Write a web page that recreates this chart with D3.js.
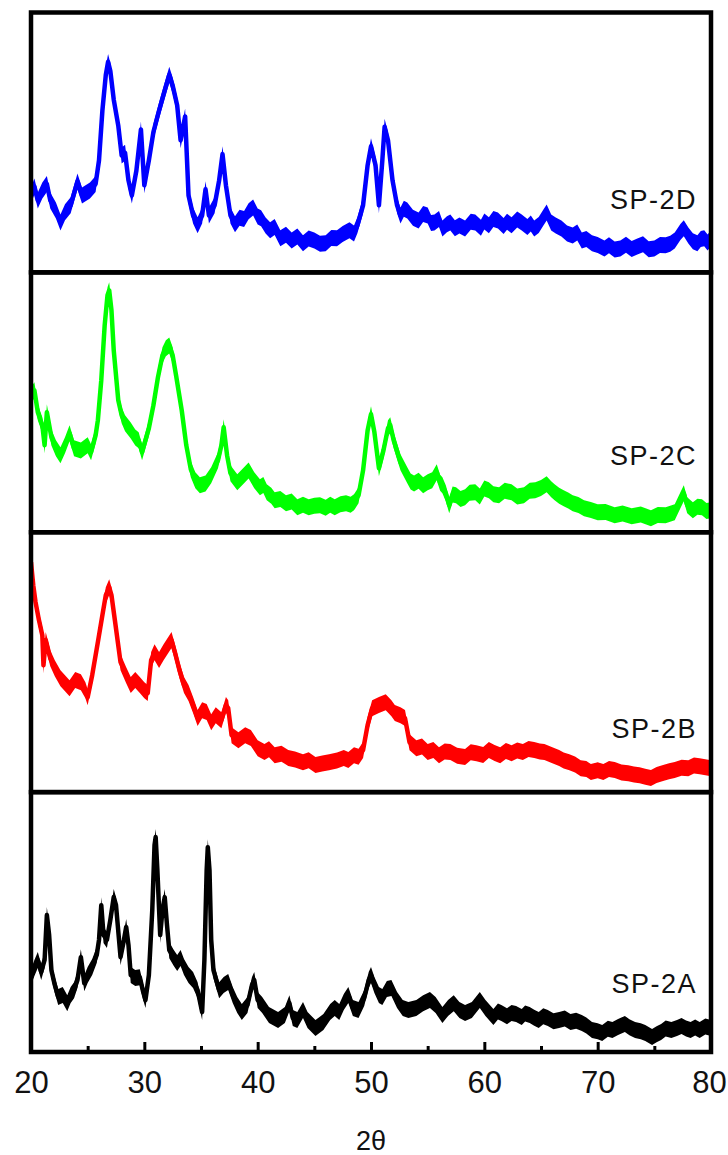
<!DOCTYPE html>
<html lang="en">
  <head>
    <meta charset="utf-8" />
    <title>XRD patterns SP-2A to SP-2D</title>
    <script src="https://d3js.org/d3.v7.min.js"></script>
    <style>
      body { margin: 0; background: #fff; }
      svg { display: block; font-family: 'Liberation Sans', Arial, sans-serif; }
    </style>
  </head>
  <body>
    <svg width="728" height="1155"></svg>
  <script>
    // Samples, from the top panel down
    const samples = ['SP-2D', 'SP-2C', 'SP-2B', 'SP-2A'];
    const colors = ['#0000ff', '#00ff00', '#ff0000', '#000000'];

    // Ticks of the 2θ axis
    const majorTicks = [20, 30, 40, 50, 60, 70, 80];
    const minorTicks = [25, 35, 45, 55, 65, 75];

    // [2θ, intensity], intensity in a.u. (0 - 100 inside each panel)
    const sp2D = [
      [20.0, 29.6], [20.3, 33.0], [20.6, 27.7], [21.0, 31.5], [21.4, 34.0], [21.7, 27.7], [22.2, 23.8],
      [22.6, 19.2], [23.0, 23.1], [23.5, 25.8], [24.1, 35.0], [24.5, 29.6], [25.2, 31.5], [25.7, 34.0],
      [26.0, 43.1], [26.3, 62.3], [26.6, 76.0], [26.8, 81.0], [27.0, 77.5], [27.3, 66.5], [27.7, 56.5],
      [28.0, 45.0], [28.3, 46.0], [28.6, 35.4], [28.9, 29.6], [29.3, 39.2], [29.7, 55.0], [30.0, 33.5],
      [30.4, 43.1], [30.8, 54.0], [31.3, 62.3], [31.8, 70.0], [32.2, 76.0], [32.5, 71.9], [32.9, 64.2],
      [33.2, 50.8], [33.6, 60.0], [33.9, 29.6], [34.3, 21.9], [34.7, 18.1], [35.1, 21.9], [35.4, 32.0],
      [35.7, 21.9], [36.2, 25.8], [36.6, 35.4], [36.9, 45.5], [37.2, 33.5], [37.6, 21.9], [38.0, 18.5],
      [38.4, 21.0], [38.8, 20.5], [39.2, 23.5], [39.6, 25.0], [40.0, 21.5], [40.3, 20.8], [40.7, 18.0],
      [41.1, 16.2], [41.5, 17.5], [42.0, 13.1], [42.5, 14.5], [43.0, 12.3], [43.5, 13.8], [44.0, 11.2],
      [44.5, 13.0], [45.0, 12.3], [45.5, 11.0], [46.0, 11.2], [46.5, 13.2], [47.0, 13.1], [47.5, 14.8],
      [48.1, 16.2], [48.5, 15.0], [48.8, 18.1], [49.3, 25.8], [49.7, 41.2], [50.0, 48.5], [50.4, 41.2],
      [50.7, 25.8], [51.0, 43.1], [51.2, 56.0], [51.5, 50.8], [51.9, 35.4], [52.3, 25.8], [52.6, 21.9],
      [52.9, 24.5], [53.2, 23.8], [53.7, 21.0], [54.2, 20.0], [54.6, 22.5], [55.0, 21.9], [55.3, 19.0],
      [55.6, 19.2], [56.0, 20.5], [56.3, 16.9], [56.7, 18.5], [57.0, 19.2], [57.4, 17.0], [57.8, 18.0],
      [58.3, 16.9], [58.8, 19.5], [59.2, 19.2], [59.7, 17.2], [60.0, 19.6], [60.4, 18.1], [60.8, 20.5],
      [61.2, 20.0], [61.7, 17.8], [62.0, 19.5], [62.4, 18.1], [62.9, 20.3], [63.3, 19.2], [63.8, 17.5],
      [64.1, 18.8], [64.4, 16.9], [64.8, 18.2], [65.2, 21.0], [65.5, 23.0], [65.9, 19.2], [66.3, 18.0],
      [66.8, 16.9], [67.3, 15.0], [67.8, 14.2], [68.2, 15.3], [68.6, 12.3], [69.0, 12.8], [69.5, 11.2],
      [70.0, 10.5], [70.6, 9.2], [71.0, 10.4], [71.5, 8.8], [72.0, 9.2], [72.5, 10.6], [73.0, 9.0],
      [73.5, 10.0], [74.0, 10.8], [74.5, 8.9], [75.0, 9.2], [75.5, 10.5], [76.0, 10.4], [76.4, 11.0],
      [76.8, 12.3], [77.3, 15.5], [77.6, 17.0], [78.0, 14.2], [78.4, 12.0], [78.8, 11.2], [79.1, 12.8],
      [79.4, 13.1], [79.7, 11.5], [80.0, 13.1]
    ];

    const sp2C = [
      [20.0, 52.7], [20.3, 54.6], [20.6, 46.2], [21.0, 41.2], [21.2, 33.5], [21.4, 46.2], [21.8, 36.5],
      [22.2, 32.3], [22.6, 29.6], [23.0, 33.5], [23.4, 38.1], [23.8, 32.3], [24.4, 31.5], [25.0, 33.5],
      [25.3, 30.8], [25.7, 37.3], [25.9, 43.1], [26.2, 58.5], [26.5, 79.6], [26.75, 91.2], [26.9, 93.1],
      [27.1, 85.4], [27.3, 70.0], [27.7, 50.8], [28.0, 45.0], [28.3, 41.9], [28.8, 39.2], [29.2, 36.5],
      [29.5, 35.4], [29.8, 30.8], [30.1, 35.4], [30.4, 40.0], [30.8, 48.8], [31.2, 59.6], [31.6, 68.1],
      [31.9, 70.8], [32.2, 71.9], [32.5, 68.1], [32.8, 60.4], [33.3, 46.9], [33.7, 33.5], [34.1, 24.2],
      [34.5, 20.0], [34.9, 18.1], [35.4, 18.8], [35.9, 21.9], [36.5, 27.7], [36.8, 33.5], [37.0, 40.4],
      [37.3, 29.6], [37.6, 22.7], [38.2, 19.2], [38.8, 21.9], [39.2, 23.8], [39.7, 20.0], [40.2, 17.3],
      [40.5, 18.2], [40.8, 15.4], [41.2, 14.0], [41.5, 12.3], [42.0, 12.8], [42.5, 11.2], [43.0, 11.8],
      [43.5, 9.6], [44.0, 10.6], [44.5, 9.6], [45.0, 10.2], [45.5, 10.4], [46.0, 9.4], [46.4, 10.6],
      [46.8, 9.6], [47.3, 10.8], [47.8, 11.2], [48.2, 10.6], [48.5, 11.5], [48.9, 14.2], [49.3, 23.8],
      [49.7, 39.2], [50.0, 45.4], [50.3, 38.5], [50.7, 24.6], [51.1, 31.5], [51.5, 40.0], [51.7, 41.2],
      [52.0, 35.4], [52.6, 26.9], [53.2, 21.9], [53.5, 19.5], [53.8, 18.8], [54.2, 19.8], [54.6, 18.1],
      [55.0, 19.2], [55.4, 20.0], [55.8, 23.1], [56.1, 19.0], [56.3, 18.1], [56.6, 15.0], [56.9, 10.4],
      [57.2, 14.5], [57.5, 14.2], [57.9, 12.8], [58.3, 13.5], [58.7, 15.2], [59.2, 15.4], [59.6, 13.8],
      [60.0, 16.8], [60.4, 16.2], [60.8, 14.6], [61.3, 14.2], [61.8, 16.0], [62.4, 15.4], [62.9, 13.8],
      [63.5, 14.2], [64.0, 16.0], [64.5, 16.2], [65.0, 17.0], [65.5, 18.5], [65.9, 16.5], [66.2, 15.4],
      [66.6, 14.0], [67.0, 13.1], [67.4, 12.2], [67.8, 11.2], [68.3, 10.5], [68.8, 9.2], [69.4, 8.6],
      [70.0, 7.7], [70.7, 7.8], [71.5, 6.5], [72.2, 7.2], [73.0, 6.2], [73.8, 6.8], [74.7, 5.4],
      [75.3, 6.6], [76.0, 6.5], [76.8, 7.7], [77.3, 12.3], [77.6, 15.0], [77.9, 10.4], [78.4, 8.5],
      [78.8, 9.8], [79.2, 9.6], [79.6, 8.2], [80.0, 8.5]
    ];

    const sp2B = [
      [20.0, 88.5], [20.2, 79.6], [20.4, 73.1], [20.7, 66.2], [21.0, 60.4], [21.1, 48.8], [21.3, 58.5],
      [21.7, 51.5], [22.1, 47.7], [22.6, 43.8], [23.0, 41.9], [23.4, 40.0], [23.9, 43.1], [24.4, 42.3],
      [24.8, 39.2], [25.0, 36.5], [25.4, 45.0], [25.9, 57.7], [26.3, 68.1], [26.6, 75.8], [26.9, 78.8],
      [27.1, 75.8], [27.4, 66.2], [27.9, 50.0], [28.4, 45.0], [28.8, 41.2], [29.2, 43.1], [29.6, 41.2],
      [30.0, 39.2], [30.3, 38.1], [30.6, 50.8], [30.9, 53.8], [31.3, 50.8], [31.7, 53.8], [32.1, 56.5],
      [32.4, 58.5], [32.7, 53.8], [33.1, 46.9], [33.5, 41.2], [33.9, 38.1], [34.3, 33.5], [34.7, 28.5],
      [35.1, 31.5], [35.5, 30.8], [35.9, 26.9], [36.3, 29.6], [36.8, 27.7], [37.2, 33.5], [37.4, 32.3],
      [37.7, 21.9], [38.3, 20.0], [38.9, 21.9], [39.4, 20.8], [40.0, 16.9], [40.6, 15.4], [41.0, 16.5],
      [41.5, 14.2], [42.1, 14.8], [42.7, 13.1], [43.3, 12.6], [44.0, 11.5], [44.5, 12.3], [45.1, 10.4],
      [45.7, 11.0], [46.3, 11.5], [47.0, 12.2], [47.6, 13.1], [48.0, 12.4], [48.5, 14.2], [48.9, 13.6],
      [49.3, 16.2], [49.7, 25.8], [50.1, 32.3], [50.7, 33.5], [51.3, 34.6], [51.8, 32.3], [52.1, 30.4],
      [52.6, 29.6], [53.0, 28.5], [53.4, 19.2], [54.0, 16.9], [54.5, 17.6], [55.0, 15.4], [55.5, 16.2],
      [56.0, 14.2], [56.5, 15.6], [57.0, 15.4], [57.6, 14.0], [58.3, 13.5], [58.8, 15.3], [59.3, 15.0],
      [59.9, 14.3], [60.4, 16.2], [60.9, 15.1], [61.4, 14.2], [61.9, 15.8], [62.4, 15.0], [62.9, 16.0],
      [63.4, 15.4], [63.9, 16.6], [64.4, 16.2], [64.9, 15.6], [65.3, 15.4], [66.0, 14.2], [66.6, 13.1],
      [67.0, 12.2], [67.5, 11.5], [68.0, 10.6], [68.5, 9.2], [69.0, 8.9], [69.4, 7.7], [70.0, 8.4],
      [70.5, 7.7], [71.0, 8.9], [71.5, 8.5], [72.1, 7.6], [72.7, 7.3], [73.2, 6.8], [73.7, 6.5],
      [74.2, 5.9], [74.7, 5.4], [75.2, 6.6], [75.7, 7.3], [76.3, 8.0], [76.8, 8.5], [77.4, 9.4],
      [78.0, 9.2], [78.5, 10.2], [79.0, 10.0], [79.5, 9.6], [80.0, 9.2]
    ];

    const sp2A = [
      [20.0, 28.8], [20.3, 32.3], [20.6, 35.4], [20.9, 30.8], [21.2, 35.4], [21.4, 52.7], [21.6, 45.0],
      [21.8, 31.5], [22.1, 25.8], [22.4, 21.2], [22.8, 21.9], [23.2, 18.8], [23.5, 21.9], [23.8, 23.8],
      [24.1, 27.7], [24.4, 36.5], [24.7, 26.5], [25.0, 29.6], [25.4, 32.7], [25.8, 37.3], [26.0, 43.1],
      [26.2, 56.5], [26.4, 45.0], [26.7, 43.1], [27.0, 50.8], [27.3, 59.6], [27.5, 56.5], [27.9, 36.5],
      [28.2, 43.1], [28.4, 48.1], [28.6, 41.2], [28.8, 29.6], [29.2, 28.5], [29.6, 28.8], [29.9, 23.1],
      [30.1, 20.0], [30.4, 29.6], [30.7, 54.6], [30.9, 79.6], [31.0, 82.7], [31.15, 70.0], [31.4, 45.0],
      [31.6, 54.6], [31.8, 59.6], [32.0, 48.8], [32.2, 39.2], [32.6, 36.2], [32.9, 34.2], [33.2, 36.2],
      [33.5, 32.7], [33.9, 29.6], [34.3, 27.7], [34.7, 23.8], [35.1, 15.4], [35.3, 35.4], [35.5, 70.0],
      [35.6, 78.8], [35.75, 70.0], [35.9, 43.1], [36.1, 31.5], [36.6, 23.8], [37.0, 25.8], [37.4, 26.9],
      [37.8, 21.9], [38.2, 18.1], [38.6, 15.4], [39.1, 18.1], [39.5, 25.8], [39.7, 27.7], [40.0, 20.0],
      [40.4, 18.1], [41.0, 14.2], [41.8, 12.3], [42.4, 14.2], [42.8, 18.8], [43.1, 13.1], [43.5, 12.3],
      [44.0, 16.2], [44.4, 12.3], [45.1, 9.2], [45.8, 11.5], [46.4, 15.4], [46.8, 16.9], [47.2, 15.4],
      [47.6, 19.2], [48.0, 21.9], [48.4, 16.9], [48.9, 16.2], [49.4, 20.8], [49.8, 27.7], [50.0, 29.6],
      [50.3, 25.8], [50.7, 21.9], [51.0, 21.2], [51.4, 24.2], [51.8, 24.6], [52.3, 20.0], [52.8, 16.9],
      [53.3, 16.2], [54.0, 16.9], [54.6, 18.8], [55.2, 20.0], [55.7, 18.1], [56.3, 14.2], [56.8, 16.9],
      [57.3, 18.8], [57.8, 16.2], [58.3, 15.0], [58.9, 16.2], [59.6, 20.0], [60.1, 16.9], [60.8, 13.5],
      [61.2, 15.6], [61.5, 15.0], [62.0, 13.8], [62.4, 15.0], [62.8, 14.6], [63.3, 13.5], [63.6, 14.8],
      [64.0, 14.2], [64.4, 13.2], [64.8, 12.3], [65.2, 13.8], [65.6, 13.1], [66.1, 11.8], [66.6, 12.3],
      [67.1, 12.9], [67.6, 11.5], [68.1, 12.0], [68.6, 11.2], [69.0, 10.2], [69.5, 8.5], [70.0, 8.0],
      [70.4, 7.3], [70.9, 8.9], [71.3, 8.5], [71.8, 9.6], [72.4, 10.8], [72.8, 9.5], [73.3, 8.5],
      [73.8, 8.0], [74.2, 7.3], [74.8, 5.8], [75.2, 6.8], [75.6, 7.7], [76.0, 9.0], [76.5, 8.5],
      [77.0, 9.2], [77.4, 10.0], [77.8, 9.0], [78.2, 8.5], [78.6, 9.4], [79.0, 8.5], [79.5, 9.8],
      [80.0, 9.2]
    ];

    const series = [sp2D, sp2C, sp2B, sp2A];

    const svg = d3.select('svg');

    // Plot frame: four panels stacked with no gap
    const plotLeft = 31, plotRight = 711, plotTop = 12.5, plotBottom = 1052;
    const panelH = (plotBottom - plotTop) / samples.length;
    const noise = 8; // half thickness of the noisy band, px
    const labelY = [209, 465, 738, 993];

    const x = d3.scaleLinear().domain([20, 80]).range([plotLeft, plotRight]);

    const defs = svg.append('defs');

    samples.forEach((name, i) => {
      const y0 = plotTop + i * panelH;
      const y = d3.scaleLinear().domain([0, 100]).range([y0 + panelH, y0]);

      defs.append('clipPath').attr('id', `clip${i}`)
        .append('rect')
        .attr('x', plotLeft).attr('y', y0)
        .attr('width', plotRight - plotLeft).attr('height', panelH);

      const g = svg.append('g').attr('clip-path', `url(#clip${i})`);

      // Noise band around the pattern
      const band = d3.area()
        .x(d => x(d[0]))
        .y0(d => y(d[1]) + noise)
        .y1(d => y(d[1]) - noise);

      g.append('path')
        .datum(series[i])
        .attr('d', band)
        .attr('fill', colors[i]);

      g.append('path')
        .datum(series[i])
        .attr('d', d3.line().x(d => x(d[0])).y(d => y(d[1])))
        .attr('fill', 'none')
        .attr('stroke', colors[i])
        .attr('stroke-width', 4.5)
        .attr('stroke-linejoin', 'round');

      // Sample label
      svg.append('text')
        .attr('x', 697)
        .attr('y', labelY[i])
        .attr('text-anchor', 'end')
        .attr('font-size', 27)
        .attr('letter-spacing', 1.5)
        .attr('fill', '#111')
        .text(name);

      svg.append('rect')
        .attr('x', plotLeft).attr('y', y0)
        .attr('width', plotRight - plotLeft).attr('height', panelH)
        .attr('fill', 'none')
        .attr('stroke', '#000')
        .attr('stroke-width', 4.5);
    });

    // 2θ axis: inward ticks on the bottom panel only
    const axisMajor = d3.axisBottom(x)
      .tickValues(majorTicks)
      .tickSizeInner(-10)
      .tickSizeOuter(0)
      .tickPadding(19)
      .tickFormat(d3.format('d'));

    const axisMinor = d3.axisBottom(x)
      .tickValues(minorTicks)
      .tickSizeInner(-6)
      .tickSizeOuter(0)
      .tickFormat('');

    const gx = svg.append('g')
      .attr('transform', `translate(0, ${plotBottom})`)
      .call(axisMajor);
    const gm = svg.append('g')
      .attr('transform', `translate(0, ${plotBottom})`)
      .call(axisMinor);

    [gx, gm].forEach(a => {
      a.select('.domain').remove();
      a.selectAll('line').attr('stroke', '#000').attr('stroke-width', 3);
    });
    gx.selectAll('text')
      .attr('font-size', 31)
      .attr('font-family', "'Liberation Sans', Arial, sans-serif")
      .attr('fill', '#111')
      .attr('dx', d => d === 80 ? -2 : 0);

    svg.append('text')
      .attr('x', (plotLeft + plotRight) / 2)
      .attr('y', 1150)
      .attr('text-anchor', 'middle')
      .attr('font-size', 27)
      .attr('fill', '#111')
      .text('2θ');
  </script>
  </body>
</html>
